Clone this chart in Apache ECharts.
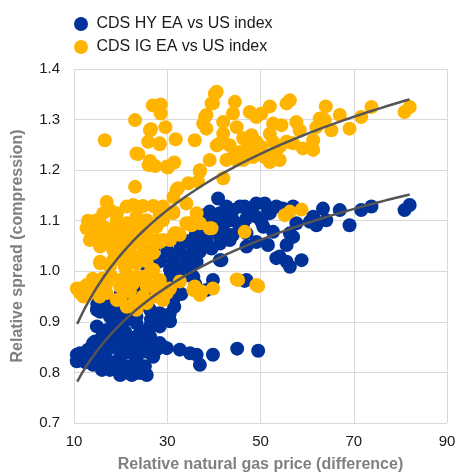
<!DOCTYPE html>
<html>
<head>
<meta charset="utf-8">
<script src="https://cdn.jsdelivr.net/npm/echarts@6/dist/echarts.min.js"></script>
<style>html,body{margin:0;padding:0;background:#fff;overflow:hidden}#c{width:458px;height:474px}</style>
</head>
<body>
<div id="c"></div>
<script>
const seriesNames = ['CDS HY EA vs US index', 'CDS IG EA vs US index'];
const xTicks = [10, 30, 50, 70, 90];
const yTicks = [0.7, 0.8, 0.9, 1.0, 1.1, 1.2, 1.3, 1.4];

const hyPoints = [
[40.9,1.144],[38.8,1.111],[41.3,1.115],[44.1,1.121],[46.6,1.128],[49.1,1.134],[37.0,1.088],[40.6,1.088],
[43.4,1.101],[45.6,1.088],[49.1,1.108],[36.3,1.058],[38.4,1.062],[41.3,1.068],[44.1,1.072],[47.0,1.075],
[32.3,1.062],[49.1,1.058],[38.1,1.111],[39.1,1.118],[45.6,1.128],[47.7,1.124],[50.9,1.134],[44.1,1.101],
[47.0,1.105],[52.0,1.115],[54.8,1.124],[57.0,1.128],[60.6,1.098],[62.0,1.091],[57.7,1.095],[36.3,1.088],
[37.7,1.068],[42.0,1.082],[43.4,1.065],[41.3,1.055],[50.6,1.088],[52.7,1.078],[56.3,1.075],[57.0,1.068],
[51.6,1.052],[55.6,1.052],[47.0,1.049],[54.1,1.029],[55.6,1.019],[56.3,1.009],[58.8,1.022],[36.3,1.019],
[34.9,1.003],[41.3,1.022],[39.8,0.983],[47.0,0.983],[37.0,1.039],[61.3,1.108],[63.4,1.124],[64.1,1.101],
[67.0,1.121],[69.1,1.091],[71.6,1.121],[73.8,1.128],[80.9,1.121],[82.0,1.131],[46.6,0.981],[45.0,0.847],
[49.5,0.843],[43.4,1.062],[53.4,1.026],[42.7,1.128],[48.1,1.115],[51.6,1.121],[53.4,1.128],[46.3,1.095],
[50.2,1.098],[39.8,1.101],[42.0,1.108],
[30.6,1.062],[32.7,1.042],[34.9,1.022],[31.3,1.022],[27.0,1.042],[25.6,1.049],[30.6,1.003],[34.1,1.009],
[28.4,0.963],[30.6,0.970],[16.3,1.058],[15.6,0.943],[14.9,0.924],[17.7,0.930],[19.2,0.917],[23.4,0.910],
[26.3,0.924],[28.4,0.917],[29.9,0.904],[28.4,0.891],[31.3,0.943],[32.0,0.963],[29.9,0.980],[35.6,0.989],
[37.0,1.049],[38.4,1.075],[41.6,1.022],[38.4,0.963],[27.0,0.957],[23.4,0.966],[25.6,1.009],[26.3,1.036],
[30.6,0.989],
[33.0,1.030],[35.5,1.040],[36.0,1.070],[34.0,1.060],[39.5,1.045],[40.5,1.080],[33.5,0.990],[36.0,0.975],
[30.0,1.040],[28.5,1.020],[32.0,1.005],
[15.6,0.920],[17.7,0.910],[14.9,0.891],[17.0,0.884],[19.9,0.894],[23.4,0.897],[26.3,0.891],[28.4,0.901],
[30.6,0.901],[14.5,0.861],[17.0,0.864],[19.9,0.868],[23.4,0.871],[26.3,0.871],[28.4,0.858],[29.9,0.848],
[32.7,0.845],[34.9,0.838],[36.3,0.835],[11.3,0.838],[10.6,0.822],[13.4,0.831],[15.6,0.838],[17.7,0.848],
[20.6,0.848],[23.4,0.848],[25.6,0.841],[27.0,0.831],[19.9,0.831],[17.0,0.825],[14.1,0.815],[19.9,0.812],
[22.7,0.815],[25.2,0.812],[19.9,0.795],[22.4,0.795],[24.5,0.799],[25.6,0.795],[17.7,0.805],[27.7,0.845],
[37.0,0.815],[39.8,0.835],[29.1,0.851],[26.3,0.858],[23.4,0.799],[21.3,0.812],[18.4,0.812],[14.9,0.825],
[10.6,0.835],[14.1,0.858],
[16.0,0.870],[18.5,0.880],[21.0,0.880],[22.0,0.860],[25.0,0.880],[21.5,0.905],[18.5,0.900],[24.5,0.855],
[21.5,0.840],[19.0,0.855],[16.0,0.850],[13.0,0.845],[12.5,0.820],[16.0,0.805],[21.0,0.800],[23.5,0.830],
[18.5,0.820],[15.0,0.935],[17.0,0.945],[19.0,0.930],[21.0,0.920],[24.0,0.935],[26.0,0.945],[22.5,0.945],
[20.0,0.955],[27.5,0.905],[30.5,0.915],[31.5,0.930],[26.5,0.905],[33.0,0.955]
];

const igPoints = [
[16.6,1.259],[23.1,1.299],[26.9,1.328],[28.6,1.330],[28.6,1.312],[26.5,1.281],[29.6,1.285],[25.9,1.256],
[28.4,1.251],[31.8,1.261],[23.8,1.232],[26.3,1.218],[27.4,1.208],[26.0,1.210],[30.1,1.205],[31.5,1.215],
[35.9,1.259],[23.1,1.167],[17.0,1.137],[22.7,1.131],[24.8,1.129],[27.0,1.129],[32.0,1.161],[34.5,1.174],
[37.0,1.197],[31.3,1.147],[40.6,1.355],[39.8,1.332],[44.5,1.335],[47.7,1.315],[52.0,1.326],[55.6,1.332],
[56.3,1.338],[38.1,1.305],[37.7,1.292],[38.4,1.282],[42.0,1.295],[44.1,1.312],[44.9,1.285],[42.0,1.272],
[41.3,1.253],[49.1,1.305],[50.2,1.312],[46.3,1.263],[48.1,1.269],[49.1,1.256],[47.3,1.243],[52.0,1.272],
[52.7,1.256],[54.1,1.246],[53.1,1.236],[50.2,1.246],[50.9,1.226],[52.0,1.216],[45.6,1.236],[44.1,1.226],
[42.7,1.220],[46.3,1.220],[48.4,1.226],[39.1,1.220],[37.0,1.200],[36.6,1.177],[42.0,1.184],[57.7,1.295],
[58.4,1.279],[55.6,1.256],[57.0,1.253],[59.1,1.243],[43.4,1.249],[52.7,1.292],[54.5,1.289],[64.0,1.326],
[62.7,1.302],[63.8,1.299],[62.0,1.285],[61.3,1.259],[65.2,1.279],[67.0,1.309],[69.1,1.282],[71.6,1.305],
[73.8,1.325],[80.9,1.315],[82.0,1.325],[61.3,1.240],[52.7,1.226],[54.1,1.220],[49.1,1.233],[44.9,1.220],
[40.6,1.249],[38.4,1.309],[39.5,1.332],[40.2,1.351],[34.1,1.134],[31.3,1.118],[29.1,1.128],[32.3,1.164],
[29.9,1.207],[28.4,1.253],[26.3,1.279],[23.4,1.233],
[14.9,1.101],[16.3,1.115],[17.7,1.121],[19.2,1.115],[21.3,1.128],[28.4,1.124],[29.1,1.101],[27.7,1.088],
[25.6,1.101],[23.4,1.108],[21.3,1.095],[19.9,1.088],[18.4,1.075],[17.0,1.085],[14.1,1.088],[34.1,1.095],
[37.0,1.095],[39.1,1.085],[46.6,1.078],[31.6,1.075],[30.6,1.062],[28.4,1.058],
[19.2,1.101],[28.4,1.111],[31.3,1.115],[16.3,1.055],[18.4,1.042],[15.6,1.019],[17.7,1.009],[19.9,1.026],
[23.4,1.016],[21.3,0.996],[24.8,0.989],[27.0,1.003],[28.4,0.983],[25.6,0.970],[22.7,0.976],[19.9,0.970],
[10.6,0.966],[12.7,0.973],[14.9,0.963],[17.0,0.957],[12.0,0.950],[29.9,0.957],[27.7,0.950],[32.7,1.072],
[34.9,1.095],[36.3,1.115],[25.6,1.078],[27.7,1.062],[21.6,1.075],[22.7,1.055],[24.8,1.036],[20.9,1.058],
[17.0,1.072],
[11.3,0.966],[14.1,0.970],[17.0,0.976],[19.2,0.943],[21.3,0.930],[23.4,0.924],[25.6,0.937],[24.8,0.950],
[29.1,0.943],[30.6,0.966],[32.7,0.980],[35.6,0.963],[37.0,0.953],[39.8,0.966],[45.2,0.983],[49.1,0.973],
[39.5,1.085],[35.2,1.091],[29.1,1.062],[32.0,1.075],[27.0,1.036],[24.1,1.022],[26.3,0.996],[23.4,0.989],
[28.4,0.976],[15.6,1.016],
[55.2,1.111],[56.3,1.118],[58.8,1.122],[44.9,0.984],[49.5,0.971],[35.9,0.970],[37.4,0.960],
[13.4,1.062],[15.6,1.049],[18.4,1.022],[20.9,1.009],[19.9,1.049],[22.0,1.036],[12.7,1.085],[14.5,1.075],[11.3,0.957],
[13.0,1.100],[15.5,1.095],[16.5,1.080],[18.0,1.060],[19.5,1.070],[21.0,1.040],[22.5,1.020],[24.0,1.060],
[23.5,1.085],[26.0,1.060],[25.5,1.020],[27.0,0.970],[22.0,0.960],[20.5,0.985],[18.0,0.990],[16.0,0.985],
[14.0,0.985],[13.0,0.955],[15.5,0.950],[20.0,0.945],[23.0,0.940]
];

// Logarithmic trend lines y = a + b*ln(x)
const hyTrend = [0.3513, 0.1817];
const igTrend = [0.3793, 0.2180];
const trendRange = [10.7, 82];

function trendLine(coef) {
  const pts = [];
  const n = 80;
  for (let i = 0; i <= n; i++) {
    const x = trendRange[0] + (trendRange[1] - trendRange[0]) * i / n;
    pts.push([x, coef[0] + coef[1] * Math.log(x)]);
  }
  return pts;
}

const chart = echarts.init(document.getElementById('c'), null, {renderer: 'canvas'});
const font = 'Liberation Sans, Arial, sans-serif';
chart.setOption({
  animation: false,
  backgroundColor: '#ffffff',
  textStyle: {fontFamily: font},
  legend: {
    orient: 'vertical',
    left: 74, top: 15, padding: 0,
    itemWidth: 21, itemHeight: 14, itemGap: 5,
    icon: 'circle', symbolKeepAspect: true,
    data: seriesNames,
    textStyle: {fontSize: 16, color: '#1a1a1a', fontFamily: font, lineHeight: 18}
  },
  grid: {left: 74, right: 11, top: 69, bottom: 51, containLabel: false, outerBoundsMode: 'none'},
  xAxis: {
    type: 'value', min: xTicks[0], max: xTicks[xTicks.length - 1], interval: 20,
    name: 'Relative natural gas price (difference)',
    nameLocation: 'middle', nameGap: 34,
    nameTextStyle: {fontSize: 16, fontWeight: 'bold', color: '#808080', fontFamily: font},
    axisLine: {show: false}, axisTick: {show: false},
    axisLabel: {fontSize: 15, color: '#1a1a1a', margin: 11, fontFamily: font},
    splitLine: {show: true, lineStyle: {color: '#d9d9d9', width: 1}}
  },
  yAxis: {
    type: 'value', min: yTicks[0], max: yTicks[yTicks.length - 1], interval: 0.1,
    name: 'Relative spread (compression)',
    nameLocation: 'middle', nameGap: 48,
    nameTextStyle: {fontSize: 16, fontWeight: 'bold', color: '#808080', fontFamily: font},
    axisLine: {show: false}, axisTick: {show: false},
    axisLabel: {fontSize: 15, color: '#1a1a1a', margin: 14, fontFamily: font,
      formatter: v => v.toFixed(1)},
    splitLine: {show: true, lineStyle: {color: '#d9d9d9', width: 1}}
  },
  series: [
    {name: seriesNames[0], type: 'scatter', data: hyPoints, symbolSize: 14,
     itemStyle: {color: '#003299', opacity: 1}},
    {name: seriesNames[1], type: 'scatter', data: igPoints, symbolSize: 14,
     itemStyle: {color: '#ffb400', opacity: 1}},
    {name: 'hyTrend', type: 'line', data: trendLine(hyTrend), showSymbol: false, silent: true,
     lineStyle: {color: '#555555', width: 2.5}, z: 5},
    {name: 'igTrend', type: 'line', data: trendLine(igTrend), showSymbol: false, silent: true,
     lineStyle: {color: '#555555', width: 2.5}, z: 5}
  ]
});
</script>
</body>
</html>
